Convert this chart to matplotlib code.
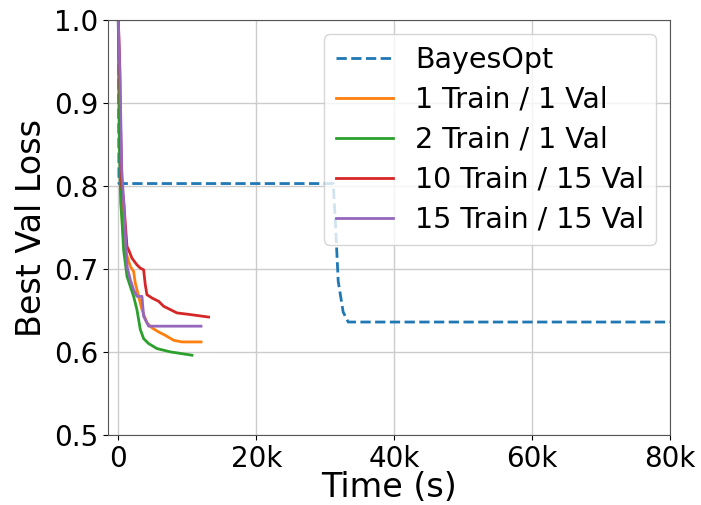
import matplotlib
matplotlib.use("Agg")
import matplotlib.pyplot as plt

# Best validation loss so far vs wall-clock time (seconds)
bayes_t = [0, 100, 31160, 31450, 31880, 32600, 33330, 80000]
bayes_y = [1.0, 0.803, 0.803, 0.76, 0.685, 0.648, 0.636, 0.636]

t1_1 = [0, 150, 350, 600, 1010, 1740, 2220, 2460, 2950, 3430, 4150, 4880, 5850, 6810, 8020, 9230, 11990]
y1_1 = [1.0, 0.90, 0.81, 0.75, 0.723, 0.703, 0.697, 0.683, 0.667, 0.651, 0.635, 0.629, 0.624, 0.620, 0.614, 0.612, 0.612]

t2_1 = [0, 150, 350, 530, 770, 1260, 1740, 2220, 2700, 3190, 3670, 4400, 5600, 7540, 10680]
y2_1 = [1.0, 0.85, 0.78, 0.759, 0.723, 0.691, 0.679, 0.667, 0.651, 0.627, 0.616, 0.610, 0.604, 0.600, 0.596]

t10_15 = [0, 200, 290, 500, 770, 1260, 1500, 1980, 2700, 3190, 3670, 3910, 4150, 4880, 5850, 6570, 7540, 8500, 10430, 13090]
y10_15 = [1.0, 0.95, 0.888, 0.80, 0.783, 0.727, 0.723, 0.713, 0.705, 0.701, 0.699, 0.681, 0.669, 0.665, 0.661, 0.655, 0.651, 0.647, 0.645, 0.642]

t15_15 = [0, 250, 500, 770, 1010, 1260, 1740, 2220, 2700, 3430, 3670, 4400, 11990]
y15_15 = [1.0, 0.93, 0.82, 0.783, 0.743, 0.703, 0.687, 0.675, 0.667, 0.667, 0.643, 0.631, 0.631]

labels = ["BayesOpt", "1 Train / 1 Val", "2 Train / 1 Val", "10 Train / 15 Val", "15 Train / 15 Val"]
x_ticks = [0, 20000, 40000, 60000, 80000]
x_tick_labels = ["0", "20k", "40k", "60k", "80k"]
y_ticks = [0.5, 0.6, 0.7, 0.8, 0.9, 1.0]

fig = plt.figure(figsize=(7.01, 5.05), dpi=100)
ax = fig.add_axes([0.154, 0.139, 0.802, 0.821])

ax.plot(bayes_t, bayes_y, "--", color="#1f77b4", lw=2, label=labels[0])
ax.plot(t1_1, y1_1, color="#ff7f0e", lw=2, label=labels[1])
ax.plot(t2_1, y2_1, color="#2ca02c", lw=2, label=labels[2])
ax.plot(t10_15, y10_15, color="#d62728", lw=2, label=labels[3])
ax.plot(t15_15, y15_15, color="#9467bd", lw=2, label=labels[4])

ax.set_xlim(-1500, 80000)
ax.set_ylim(0.5, 1.0)
ax.set_xticks(x_ticks)
ax.set_xticklabels(x_tick_labels)
ax.set_yticks(y_ticks)
ax.tick_params(labelsize=20)
ax.grid(True, color="#cccccc", lw=1)
for s in ax.spines.values():
    s.set_color("#555555")

ax.set_xlabel("Time (s)", fontsize=24, labelpad=-1)
ax.set_ylabel("Best Val Loss", fontsize=24)
ax.legend(loc="upper right", fontsize=20.5, labelspacing=0.42)

fig.savefig("out.png", dpi=100)
